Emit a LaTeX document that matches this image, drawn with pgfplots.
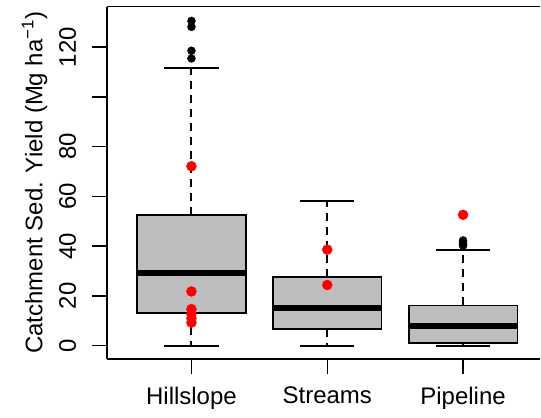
\documentclass[border=0pt]{standalone}
\usepackage{fontspec}
\setmainfont{Liberation Sans}
\usepackage{pgfplots}
\pgfplotsset{compat=1.18}
\usepgfplotslibrary{statistics}
\definecolor{boxgray}{HTML}{BEBEBE}
\begin{document}
\fontsize{24}{28}\selectfont
\begin{tikzpicture}
\begin{axis}[
  scale only axis, width=433.6pt, height=352.6pt,
  xmin=0.38, xmax=3.568, ymin=-5.24, ymax=136.2,
  axis x line*=box, axis y line*=left,
  x axis line style={-}, y axis line style={-},
  xtick={1,2,3}, xticklabels={Hillslope,Streams,Pipeline},
  ytick={0,20,40,60,80,100,120}, yticklabels={0,20,40,60,80,,120},
  xtick pos=bottom, ytick pos=left,
  tick align=outside, major tick length=15pt,
  tick style={line width=1.5pt, black},
  axis line style={line width=1.6pt},
  /pgf/number format/assume math mode=true,
  xticklabel style={yshift=-5pt},
  yticklabel style={xshift=-8pt, rotate=90, anchor=south},
  ylabel={Catchment Sed. Yield (Mg ha\textsuperscript{−1})},
  every axis y label/.style={at={(axis description cs:0,0.5)}, xshift=-65pt, rotate=90, anchor=base},
  boxplot/draw direction=y,
  boxplot/box extend=0.8,
  boxplot/whisker extend=0.4,
  boxplot/every median/.style={line width=5.5pt},
  boxplot/draw/lower whisker/.code={%
    \draw[solid, line width=1.9pt, dash pattern=on 8pt off 6pt]
      (boxplot box cs:\pgfplotsboxplotvalue{lower quartile},0.5)
      -- (boxplot box cs:\pgfplotsboxplotvalue{lower whisker},0.5);
    \draw[solid, line width=1.9pt]
      (boxplot whisker cs:\pgfplotsboxplotvalue{lower whisker},0)
      -- (boxplot whisker cs:\pgfplotsboxplotvalue{lower whisker},1);
  },
  boxplot/draw/upper whisker/.code={%
    \draw[solid, line width=1.9pt, dash pattern=on 8pt off 6pt]
      (boxplot box cs:\pgfplotsboxplotvalue{upper quartile},0.5)
      -- (boxplot box cs:\pgfplotsboxplotvalue{upper whisker},0.5);
    \draw[solid, line width=1.9pt]
      (boxplot whisker cs:\pgfplotsboxplotvalue{upper whisker},0)
      -- (boxplot whisker cs:\pgfplotsboxplotvalue{upper whisker},1);
  },
]
\addplot[draw=black, fill=boxgray, line width=1.7pt, solid, mark=none,
  boxplot prepared={draw position=1, median=29.2, upper quartile=52.6,
  lower quartile=13.2, upper whisker=111.7, lower whisker=0}] coordinates {};
\addplot[draw=black, fill=boxgray, line width=1.7pt, solid, mark=none,
  boxplot prepared={draw position=2, median=15.1, upper quartile=27.6,
  lower quartile=6.8, upper whisker=58.2, lower whisker=0}] coordinates {};
\addplot[draw=black, fill=boxgray, line width=1.7pt, solid, mark=none,
  boxplot prepared={draw position=3, median=7.9, upper quartile=16.2,
  lower quartile=1.2, upper whisker=38.6, lower whisker=0}] coordinates {};
% outliers
\addplot[only marks, mark=*, mark size=4pt, black] coordinates {
  (1,130.5) (1,128.1) (1,118.5) (1,115.4)
  (3,42.3) (3,41.5) (3,40.8) (3,40.2)
};
% red points
\addplot[only marks, mark=*, mark size=5pt, red, draw=red, fill=red] coordinates {
  (1,72.1) (1,21.8) (1,14.7) (1,12.8) (1,11.0) (1,9.3)
  (2,38.6) (2,24.4)
  (3,52.6)
};
\end{axis}
\path (current axis.south west) ++(-107.4pt,-52.7pt);
\path (current axis.north east) ++(0pt,6.7pt);
\end{tikzpicture}
\end{document}
